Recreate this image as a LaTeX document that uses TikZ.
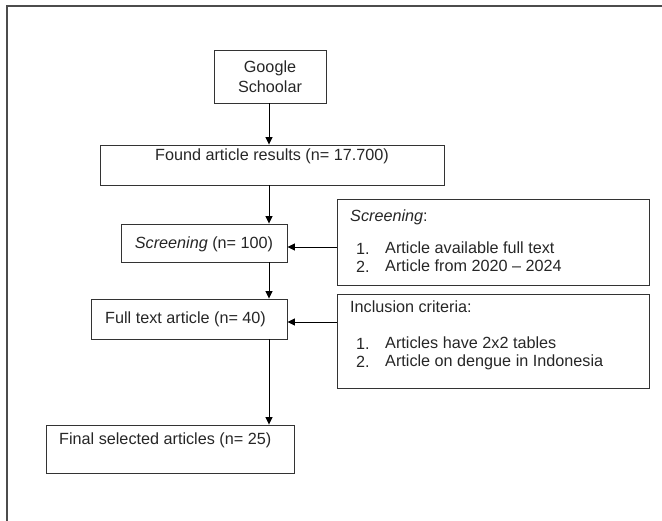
\documentclass[tikz,border=0pt]{standalone}
\usepackage{fontspec}
\setmainfont{Liberation Sans}
\usetikzlibrary{arrows.meta}
\begin{document}
\begin{tikzpicture}[x=1pt,y=-1pt,
  box/.style={draw=black!80, line width=0.9pt, inner sep=0pt},
  fnt/.style={font=\fontsize{16.2}{20}\selectfont, text=black!85},
  ltxt/.style={fnt, anchor=base west, inner sep=0pt},
  ctxt/.style={fnt, anchor=base, inner sep=0pt},
  arr/.style={-{Triangle[length=7.5pt,width=7pt]}, line width=0.8pt, black}]
\useasboundingbox (0,0) rectangle (662,521);
\draw[line width=1.4pt, black!70] (7,521) -- (7,6) -- (662,6);

\coordinate (ax) at (269,0);
\coordinate (ay1) at (0,247);
\coordinate (ay2) at (0,322);

\node[box, fnt, align=center, minimum width=112pt, minimum height=53pt] (google) at (270,76.5) {Google\\Schoolar};
\node[box, minimum width=344pt, minimum height=40pt] (found) at (272,165) {};
\node[ctxt] (foundt) at (272,161) {Found article results (n= 17.700)};
\node[box, minimum width=166pt, minimum height=38pt] (screen) at (204,243) {};
\node[ctxt] (screent) at (204,249) {\textit{Screening} (n= 100)};
\node[box, minimum width=196pt, minimum height=40pt] (full) at (189,319) {};
\node[ltxt] (fullt) at (105,324) {Full text article (n= 40)};
\node[box, minimum width=248pt, minimum height=48pt] (final) at (170,449) {};
\node[ltxt] (finalt) at (59,445) {Final selected articles (n= 25)};

\node[box, minimum width=312pt, minimum height=86pt] (crit) at (493,242) {};
\node[ltxt] (critt) at (350,222) {\textit{Screening}:};
\node[ltxt] (c1n) at (356,255) {1.};
\node[ltxt] (c1) at (385,254) {Article available full text};
\node[ltxt] (c2n) at (356,273) {2.};
\node[ltxt] (c2) at (385,272) {Article from 2020 -- 2024};

\node[box, minimum width=312pt, minimum height=94pt] (incl) at (493,341) {};
\node[ltxt] (inclt) at (350,313) {Inclusion criteria:};
\node[ltxt] (i1n) at (356,350) {1.};
\node[ltxt] (i1) at (385,349) {Articles have 2x2 tables};
\node[ltxt] (i2n) at (356,368) {2.};
\node[ltxt] (i2) at (385,367) {Article on dengue in Indonesia};

\draw[arr] (google.south -| ax) -- (found.north -| ax);
\draw[arr] (found.south -| ax) -- (screen.north -| ax);
\draw[arr] (screen.south -| ax) -- (full.north -| ax);
\draw[arr] (full.south -| ax) -- (final.north -| ax);
\draw[arr] (crit.west |- ay1) -- (screen.east |- ay1);
\draw[arr] (incl.west |- ay2) -- (full.east |- ay2);
\end{tikzpicture}
\end{document}
